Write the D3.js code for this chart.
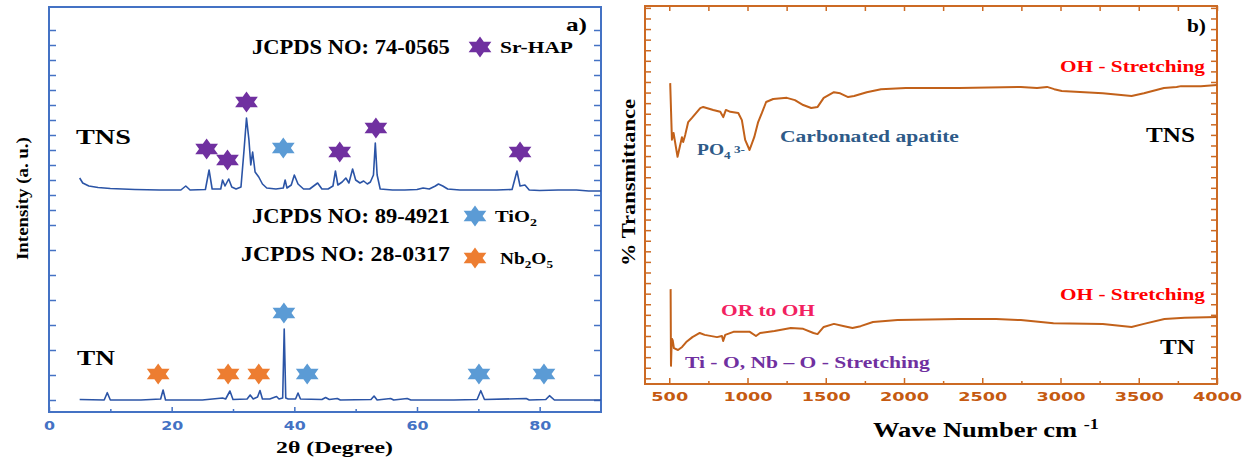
<!DOCTYPE html>
<html>
<head>
<meta charset="utf-8">
<script src="https://cdn.jsdelivr.net/npm/d3@7"></script>
<style>
  body { margin: 0; background: #fff; }
  text { font-family: "Liberation Serif", "Times New Roman", serif; font-weight: bold; }
  .tick text { font-family: "DejaVu Sans", Verdana, sans-serif; font-weight: bold; }
</style>
</head>
<body>
<script>
const width = 1254
const height = 463

// ---------- panel a) XRD : [2theta, intensity a.u.] ----------
const tnsXrd = [
  [5,222],[5.5,217],[6.5,214],[8,212.5],[10,211.5],[14,210.5],[18,210],[21.5,210],[22.3,214],[23,210],
  [25.5,210.5],[26.1,230],[26.6,211],[28,211],[28.3,220],[28.7,214],[29.3,221],[29.8,213],[30.5,211],
  [31.3,213],[31.8,250],[32.2,282],[32.6,260],[32.9,235],[33.2,248],[33.6,228],[34.2,223],[34.8,216],
  [35.5,212],[37,211],[38.2,212],[38.5,220],[38.8,212],[39.5,215],[40,225],[40.6,216],[41.5,211],
  [42.5,211],[43.8,217],[44.5,211],[45.5,211],[46.3,214],[46.7,229],[47.1,215],[47.8,218],[48.4,222],
  [48.9,217],[49.5,231],[50,220],[50.7,217],[51.3,219],[51.9,216],[52.4,218],[52.9,225],[53.2,257],
  [53.5,225],[54,211],[56,210],[58,210],[60,210.5],[61,212],[62,211],[63,214],[63.5,216],[64.2,214],
  [65,211],[67,210],[70,210],[73,210],[75.5,210.5],[76.3,229],[76.8,214],[77.6,215],[78.3,210],
  [80,209.5],[83,210],[86,210],[88,209],[90,209]
]
const tnXrd = [
  [5,0.5],[9,0],[9.5,7.3],[10,0],[15,0],[18.2,1],[18.6,10],[19,0],[25,0],[28.3,2],[28.8,1],[29.5,9],
  [30,0.5],[32.3,1],[32.8,5],[33.3,1],[34,3],[34.4,9.5],[34.8,1],[36,1],[37.1,3.5],[37.5,1],[38.1,2],
  [38.35,71],[38.6,2],[39,1],[40.2,1],[40.6,7],[41,1],[44.5,0.5],[45.1,2.5],[45.7,0.5],[47,1.5],
  [47.5,0],[52.5,0.5],[53,4],[53.5,0],[55.7,1.5],[56.2,0],[58.4,1.5],[59,0],[66,0],[69.8,0.5],
  [70.4,9.3],[71,0.5],[77.8,1.5],[78.3,0],[81,0.5],[81.6,4.3],[82.4,0],[90,0]
]
// phase markers [2theta, intensity]
const srHapStars = [[25.7,251],[29.1,240],[32.2,298],[47.4,248],[53.3,272],[76.8,248]]
const tio2Stars = [[38.2,252],[38.3,87],[42.1,26],[70.1,26],[80.7,26]]
const nb2o5Stars = [[17.8,26],[29.2,26],[34.2,26]]

const xTicksA = [0, 20, 40, 60, 80]
const xMinorA = [10, 30, 50, 70]
const yTicksA = [0,25,50,75,100,125,150,175,190,205,220,235,250,265,280,295,310,325,340,355,370]

// ---------- panel b) FTIR : [wavenumber, %T] ----------
const tnsFtir = [
  [506,79.6],[517,64.6],[527.5,66.4],[553,60.1],[581,65.3],[589,64.0],[602,65.9],[621,69.3],[645,70.4],
  [698,73.0],[717,73.3],[781,72.5],[826,72.0],[845,70.6],[862,72.5],[890,72.0],[941,71.7],[964,69.8],
  [985,64.6],[1013,61.9],[1043,65.3],[1068,69.3],[1092,71.7],[1119,74.6],[1164,75.4],[1251,75.7],
  [1303,75.1],[1356,73.8],[1407,73.0],[1448,73.3],[1487,75.7],[1552,77.2],[1592,76.9],[1643,75.9],
  [1681,76.2],[1762,77.2],[1853,78.0],[2011,78.3],[2352,78.3],[2746,78.6],[2850,78.3],[2914,78.6],
  [2960,78.0],[3008,77.5],[3270,76.9],[3454,76.2],[3533,76.9],[3661,78.3],[3742,78.6],[3770,78.8],
  [3897,78.8],[4000,79.1]
]
const tnFtir = [
  [508.7,25.1],[511,4.8],[516,12.0],[521.9,11.6],[529.7,9.5],[555.9,9.0],[582.2,9.8],[608.4,11.1],
  [647.8,12.4],[694.9,13.5],[726.4,13.0],[805.1,12.4],[836.6,12.7],[844.5,11.4],[857.6,13.0],[910,13.8],
  [1014.7,13.8],[1054,12.7],[1080.5,13.5],[1172.4,14.0],[1277,14.8],[1355.7,14.6],[1421.3,13.5],
  [1447.5,13.2],[1487,15.1],[1552.5,15.9],[1618,15.3],[1670.6,14.8],[1723,15.3],[1801.6,16.4],
  [1959,16.9],[2352,17.2],[2588,17.2],[2746,16.9],[2955,16.1],[3270,15.9],[3454,15.1],[3533,15.9],
  [3664,17.2],[3794,17.5],[4000,17.7]
]
const xTicksB = [500, 1000, 1500, 2000, 2500, 3000, 3500, 4000]
const xMinorB = [750, 1250, 1750, 2250, 2750, 3250, 3750]
const yTicksB = d3.range(1.5, 100, 2.8)

// ---------- colours ----------
const blue = "#4472C4", xrdLine = "#2B54A6"
const purple = "#7030A0", lightBlue = "#5B9BD5", orange = "#ED7D31"
const ftirFrame = "#CC6A24", ftirLabel = "#C55A11", ftirLine = "#C2611A"

const svg = d3.select("body").append("svg").attr("width", width).attr("height", height)

const pa = { left: 49, right: 601, top: 7, bottom: 412 }
const pb = { left: 645, right: 1217, top: 6, bottom: 384 }

const xA = d3.scaleLinear().domain([0, 90]).range([pa.left, pa.right])
const yA = d3.scaleLinear().domain([-12, 393]).range([pa.bottom, pa.top])
const xB = d3.scaleLinear().domain([345, 4000]).range([pb.left, pb.right])
const yB = d3.scaleLinear().domain([0, 100]).range([pb.bottom, pb.top])

// text fitted to a measured width (the figure's fonts are wide)
function label(x, y, parts, o) {
  const t = svg.append("text").attr("font-size", o.size).attr("fill", o.color || "#000")
  parts.forEach(p => {
    const s = t.append("tspan").text(p.t)
    if (p.sub) s.attr("font-size", o.size * 0.68).attr("dy", o.size * 0.25)
    if (p.sup) s.attr("font-size", o.size * 0.68).attr("dy", -o.size * 0.4)
    if (p.back) s.attr("dy", p.back * o.size)
  })
  const len = t.node().getComputedTextLength()
  const k = o.width ? o.width / len : 1
  t.attr("transform", `translate(${x},${y})${o.rotate ? " rotate(-90)" : ""} scale(${k},1)`)
  if (o.center) t.attr("x", -len / 2)
  return t
}

// hexagram symbol
const hexagram = {
  draw(ctx, size) {
    const r = Math.sqrt(size) / 2, ri = r / Math.sqrt(3)
    for (let i = 0; i < 12; i++) {
      const a = -Math.PI / 2 + i * Math.PI / 6
      const rr = i % 2 ? ri : r
      i ? ctx.lineTo(rr * Math.cos(a), rr * Math.sin(a)) : ctx.moveTo(rr * Math.cos(a), rr * Math.sin(a))
    }
    ctx.closePath()
  }
}
const star = d3.symbol().type(hexagram).size(441)

function styleAxis(g, color) {
  g.selectAll("path.domain").remove()
  g.selectAll("line").attr("stroke", color).attr("stroke-width", 1.5)
}

// ================= panel a =================
const ga = svg.append("g")
ga.append("g").attr("transform", `translate(0,${pa.bottom})`)
  .call(d3.axisBottom(xA).tickValues(xTicksA).tickSizeInner(-5).tickPadding(9).tickFormat(d3.format("d")))
  .call(g => styleAxis(g, blue))
  .call(g => g.selectAll("text").attr("fill", blue).attr("font-size", 12)
    .attr("textLength", d => String(d).length * 11).attr("lengthAdjust", "spacingAndGlyphs"))
ga.append("g").attr("transform", `translate(0,${pa.bottom})`)
  .call(d3.axisBottom(xA).tickValues(xMinorA).tickSizeInner(-3).tickFormat(""))
  .call(g => styleAxis(g, blue))
ga.append("g").attr("transform", `translate(${pa.left},0)`)
  .call(d3.axisLeft(yA).tickValues(yTicksA).tickSizeInner(-7).tickFormat(""))
  .call(g => styleAxis(g, blue))
ga.append("g").attr("transform", `translate(${pa.right},0)`)
  .call(d3.axisRight(yA).tickValues(yTicksA).tickSizeInner(-7).tickFormat(""))
  .call(g => styleAxis(g, blue))
ga.append("rect").attr("x", pa.left).attr("y", pa.top)
  .attr("width", pa.right - pa.left).attr("height", pa.bottom - pa.top)
  .attr("fill", "none").attr("stroke", blue).attr("stroke-width", 2)

const lineA = d3.line().x(d => xA(d[0])).y(d => yA(d[1]))
;[tnsXrd, tnXrd].forEach(s => ga.append("path").attr("d", lineA(s))
  .attr("fill", "none").attr("stroke", xrdLine).attr("stroke-width", 1.6).attr("stroke-linejoin", "round"))

const starSets = [[srHapStars, purple], [tio2Stars, lightBlue], [nb2o5Stars, orange]]
starSets.forEach(([pts, c]) => ga.selectAll(null).data(pts).join("path")
  .attr("d", star).attr("fill", c)
  .attr("transform", d => `translate(${xA(d[0])},${yA(d[1])}) scale(1.25,1)`))

// legend stars
;[[480, 47, purple], [475, 216, lightBlue], [475, 258, orange]].forEach(([x, y, c]) =>
  ga.append("path").attr("d", star).attr("fill", c).attr("transform", `translate(${x},${y}) scale(1.25,1)`))

label(252, 54, [{ t: "JCPDS NO: 74-0565" }], { size: 20, width: 198 })
label(500, 53, [{ t: "Sr-HAP" }], { size: 16, width: 73 })
label(252, 223, [{ t: "JCPDS NO: 89-4921" }], { size: 20, width: 198 })
label(495, 222, [{ t: "TiO" }, { t: "2", sub: true }], { size: 16, width: 42 })
label(241, 261, [{ t: "JCPDS NO: 28-0317" }], { size: 20, width: 209 })
label(500, 264, [{ t: "Nb" }, { t: "2", sub: true }, { t: "O", back: -0.25 }, { t: "5", sub: true }], { size: 16, width: 53 })
label(76, 144, [{ t: "TNS" }], { size: 21, width: 55 })
label(77, 365, [{ t: "TN" }], { size: 21, width: 38 })
label(566, 31, [{ t: "a)" }], { size: 19, width: 21 })
label(28, 260, [{ t: "Intensity (a. u.)" }], { size: 17, width: 123, rotate: true })
label(276, 453, [{ t: "2θ (Degree)" }], { size: 17, width: 117 })

// ================= panel b =================
const gb = svg.append("g")
gb.append("g").attr("transform", `translate(0,${pb.bottom})`)
  .call(d3.axisBottom(xB).tickValues(xTicksB).tickSizeInner(-6).tickPadding(8).tickFormat(d3.format("d")))
  .call(g => styleAxis(g, ftirFrame))
  .call(g => g.selectAll("text").attr("fill", ftirLabel).attr("font-size", 12)
    .attr("textLength", d => String(d).length * 12.3).attr("lengthAdjust", "spacingAndGlyphs"))
gb.append("g").attr("transform", `translate(0,${pb.bottom})`)
  .call(d3.axisBottom(xB).tickValues(xMinorB).tickSizeInner(-3).tickFormat(""))
  .call(g => styleAxis(g, ftirFrame))
gb.append("g").attr("transform", `translate(0,${pb.top})`)
  .call(d3.axisTop(xB).tickValues(xTicksB.concat(xMinorB)).tickSizeInner(-5).tickFormat(""))
  .call(g => styleAxis(g, ftirFrame))
gb.append("g").attr("transform", `translate(${pb.left},0)`)
  .call(d3.axisLeft(yB).tickValues(yTicksB).tickSizeInner(-6).tickFormat(""))
  .call(g => styleAxis(g, ftirFrame))
gb.append("g").attr("transform", `translate(${pb.right},0)`)
  .call(d3.axisRight(yB).tickValues(yTicksB).tickSizeInner(-6).tickFormat(""))
  .call(g => styleAxis(g, ftirFrame))
gb.append("rect").attr("x", pb.left).attr("y", pb.top)
  .attr("width", pb.right - pb.left).attr("height", pb.bottom - pb.top)
  .attr("fill", "none").attr("stroke", ftirFrame).attr("stroke-width", 2)

const lineB = d3.line().x(d => xB(d[0])).y(d => yB(d[1]))
;[tnsFtir, tnFtir].forEach(s => gb.append("path").attr("d", lineB(s))
  .attr("fill", "none").attr("stroke", ftirLine).attr("stroke-width", 2).attr("stroke-linejoin", "round"))

const apatite = "#2E5A88"
label(1187, 32, [{ t: "b)" }], { size: 19, width: 19 })
label(1060, 72, [{ t: "OH - Stretching" }], { size: 17, width: 145, color: "#FF0000" })
label(1146, 142, [{ t: "TNS" }], { size: 21, width: 49 })
label(697, 155, [{ t: "PO" }, { t: "4", sub: true }, { t: " 3-", sup: true, back: 0 }], { size: 16, width: 48, color: apatite })
label(780, 142, [{ t: "Carbonated apatite" }], { size: 16, width: 179, color: apatite })
label(1060, 300, [{ t: "OH - Stretching" }], { size: 17, width: 145, color: "#FF0000" })
label(721, 316, [{ t: "OR to OH" }], { size: 17, width: 94, color: "#F2215F" })
label(685, 368, [{ t: "Ti - O, Nb – O - Stretching" }], { size: 17, width: 245, color: purple })
label(1160, 354, [{ t: "TN" }], { size: 21, width: 35 })
label(635, 266, [{ t: "% Transmittance" }], { size: 19, width: 167, rotate: true })
label(873, 437, [{ t: "Wave Number cm " }, { t: "-1", sup: true }], { size: 21, width: 226 })
</script>
</body>
</html>
